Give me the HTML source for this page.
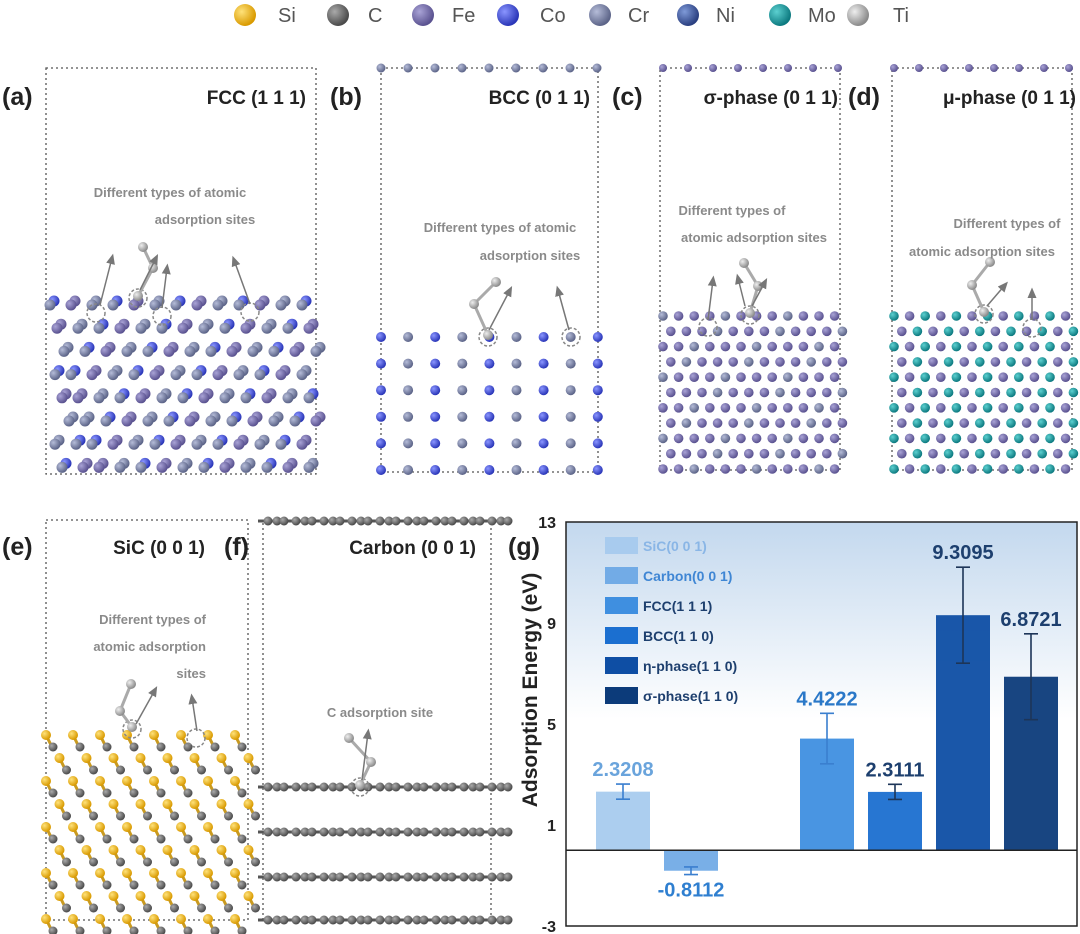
<!DOCTYPE html>
<html><head><meta charset="utf-8"><style>
html,body{margin:0;padding:0;background:#fff;}
svg{display:block;font-family:"Liberation Sans",Arial,sans-serif;}
.lbl{font-size:25px;font-weight:bold;fill:#222;}
.ttl{font-size:19px;font-weight:bold;fill:#222;}
.ann{font-size:13px;font-weight:bold;fill:#8a8a8a;}
.box{fill:none;stroke:#555;stroke-width:1.3;stroke-dasharray:2,3;}
</style></head><body>
<svg id="fig" width="1080" height="934" viewBox="0 0 1080 934">
<defs>
<radialGradient id="g-si" cx="35%" cy="35%" r="65%"><stop offset="0" stop-color="#ffe27a"/><stop offset="1" stop-color="#d99a00"/></radialGradient>
<radialGradient id="g-c" cx="35%" cy="35%" r="65%"><stop offset="0" stop-color="#aaa"/><stop offset="1" stop-color="#4a4a4a"/></radialGradient>
<radialGradient id="g-fe" cx="35%" cy="35%" r="65%"><stop offset="0" stop-color="#a9a3d6"/><stop offset="1" stop-color="#5a5290"/></radialGradient>
<radialGradient id="g-co" cx="35%" cy="35%" r="65%"><stop offset="0" stop-color="#8a95ff"/><stop offset="1" stop-color="#2a36b8"/></radialGradient>
<radialGradient id="g-cr" cx="35%" cy="35%" r="65%"><stop offset="0" stop-color="#b5bcd8"/><stop offset="1" stop-color="#5c6488"/></radialGradient>
<radialGradient id="g-ni" cx="35%" cy="35%" r="65%"><stop offset="0" stop-color="#7f9ad8"/><stop offset="1" stop-color="#2a3f80"/></radialGradient>
<radialGradient id="g-mo" cx="35%" cy="35%" r="65%"><stop offset="0" stop-color="#5cd0d0"/><stop offset="1" stop-color="#0d7a80"/></radialGradient>
<radialGradient id="g-ti" cx="35%" cy="35%" r="65%"><stop offset="0" stop-color="#eee"/><stop offset="1" stop-color="#8a8a8a"/></radialGradient>
<linearGradient id="plotbg" x1="0" y1="0" x2="0" y2="1"><stop offset="0" stop-color="#c3d8ee"/><stop offset="0.6" stop-color="#ffffff"/><stop offset="1" stop-color="#ffffff"/></linearGradient>
<marker id="arr" markerWidth="8" markerHeight="8" refX="4" refY="4" orient="auto"><path d="M0,1 L7,4 L0,7 z" fill="#777"/></marker>
</defs>
<g id="legend-top"></g>
<g id="structs"></g>
<g id="annots">
<text class="lbl" x="2" y="105">(a)</text>
<text class="ttl" x="306" y="104" text-anchor="end">FCC (1 1 1)</text>
<text class="lbl" x="330" y="105">(b)</text>
<text class="ttl" x="590" y="104" text-anchor="end">BCC (0 1 1)</text>
<text class="lbl" x="612" y="105">(c)</text>
<text class="ttl" x="838" y="104" text-anchor="end">σ-phase (0 1 1)</text>
<text class="lbl" x="848" y="105">(d)</text>
<text class="ttl" x="1076" y="104" text-anchor="end">μ-phase (0 1 1)</text>
<text class="lbl" x="2" y="555">(e)</text>
<text class="ttl" x="205" y="554" text-anchor="end">SiC (0 0 1)</text>
<text class="lbl" x="224" y="555">(f)</text>
<text class="ttl" x="476" y="554" text-anchor="end">Carbon (0 0 1)</text>
<text class="lbl" x="508" y="555">(g)</text>
<text class="ann" x="170" y="197" text-anchor="middle">Different types of atomic</text>
<text class="ann" x="205" y="224" text-anchor="middle">adsorption sites</text>
<text class="ann" x="500" y="232" text-anchor="middle">Different types of atomic</text>
<text class="ann" x="530" y="260" text-anchor="middle">adsorption sites</text>
<text class="ann" x="732" y="215" text-anchor="middle">Different types of</text>
<text class="ann" x="754" y="242" text-anchor="middle">atomic adsorption sites</text>
<text class="ann" x="1007" y="228" text-anchor="middle">Different types of</text>
<text class="ann" x="982" y="256" text-anchor="middle">atomic adsorption sites</text>
<text class="ann" x="206" y="624" text-anchor="end">Different types of</text>
<text class="ann" x="206" y="651" text-anchor="end">atomic adsorption</text>
<text class="ann" x="206" y="678" text-anchor="end">sites</text>
<text class="ann" x="380" y="717" text-anchor="middle">C adsorption site</text>
</g>
<g id="chart"></g>
</svg>
<script>
const NS='http://www.w3.org/2000/svg';
const categories=['SiC(0 0 1)','Carbon(0 0 1)','FCC(1 1 1)','BCC(1 1 0)','η-phase(1 1 0)','σ-phase(1 1 0)'];
const legendLabels=['SiC(0 0 1)','Carbon(0 0 1)','FCC(1 1 1)','BCC(1 1 0)','η-phase(1 1 0)','σ-phase(1 1 0)'];
const energies=[2.3208,-0.8112,4.4222,2.3111,9.3095,6.8721];
const errors=[0.3,0.15,1.0,0.3,1.9,1.7];
const valueLabels=['2.3208','-0.8112','4.4222','2.3111','9.3095','6.8721'];
const yTicks=[13,9,5,1,-3];
const barSlots=[0,1,3,4,5,6];
const barColors=['#a8cbee','#72abe6','#3f8fe0','#1b6fd0','#0e4ea4','#0c3b7a'];
const labelColors=['#6aa4dc','#2f7fd0','#2a78c8','#1d3f6e','#1d3f6e','#1d3f6e'];

function el(tag,attrs,parent){const e=document.createElementNS(NS,tag);for(const k in attrs)e.setAttribute(k,attrs[k]);parent.appendChild(e);return e;}

// element legend
const elems=[['Si','si',245,278],['C','c',338,368],['Fe','fe',423,452],['Co','co',508,540],['Cr','cr',600,628],['Ni','ni',688,716],['Mo','mo',780,808],['Ti','ti',858,893]];
const lg=document.getElementById('legend-top');
elems.forEach(d=>{
  const c=el('circle',{cx:d[2],cy:15,r:11,fill:'url(#g-'+d[1]+')'},lg);
  
  
  const t=el('text',{x:d[3],y:22,'font-size':20,fill:'#555'},lg);
  t.textContent=d[0];
  
  
});

const S=document.getElementById('structs');
function atom(x,y,r,kind){
  const c=el('circle',{cx:x,cy:y,r:r,fill:'url(#g-'+kind+')'},S);
  
  
}
function box(x,y,w,h,name){
  const b=el('rect',{x:x,y:y,width:w,height:h,class:'box'},S);
  
  
}
box(46,68,270,406,'panel-a-cell');box(381,68,217,404,'panel-b-cell');
box(660,68,180,402,'panel-c-cell');box(892,68,180,402,'panel-d-cell');
box(46,520,202,400,'panel-e-cell');box(263,521,228,399,'panel-f-cell');

// (a) FCC
const ak=['co','fe','cr'];
for(let r=0;r<8;r++){const y=305+r*23.2;for(let c=0;c<13;c++){let x=50+((c*21+r*7)%268);const k=ak[(c+r)%3];atom(x+4,y-4,5.5,k);atom(x,y,5.5,k==='co'?'cr':k);}}
// (b) BCC
for(let c=0;c<9;c++)atom(381+c*27,68,4.5,'cr');
for(let r=0;r<6;r++){const y=337+r*26.6;for(let c=0;c<9;c++)atom(381+c*27.1,y,5,c%2?'cr':'co');}
// (c) sigma
for(let r=0;r<11;r++){const y=316+r*15.3;for(let c=0;c<12;c++){const x=663+c*15.6+(r%2)*7.8;if(x<843)atom(x,y,4.8,(c+r)%4===0?'cr':'fe');}}
for(let c=0;c<8;c++)atom(663+c*25,68,4,'fe');
// (d) mu
for(let r=0;r<11;r++){const y=316+r*15.3;for(let c=0;c<12;c++){const x=894+c*15.6+(r%2)*7.8;if(x<1075)atom(x,y,4.8,(c+r)%2===0?'mo':'fe');}}
for(let c=0;c<8;c++)atom(894+c*25,68,4,'fe');
// (e) SiC
for(let r=0;r<9;r++){const y=735+r*23;const off=(r%2)*13.5;for(let c=0;c<8;c++){const x=46+c*27+off;
  const b=el('line',{x1:x,y1:y,x2:x+6,y2:y+12,stroke:'#c99a20','stroke-width':3},S);
  
  atom(x,y,5,'si');atom(x+7,y+12,4.5,'c');}}
// (f) carbon layers
[521,787,832,877,920].forEach(y=>{
  const ln=el('line',{x1:258,y1:y,x2:497,y2:y,stroke:'#555','stroke-width':3},S);
  
  for(let c=0;c<9;c++){const x=268+c*28;atom(x,y,4.5,'c');atom(x+9,y,4.5,'c');atom(x+16,y,4.5,'c');}
});
// adsorbates + arrows
function arrow(x1,y1,x2,y2){const a=el('line',{x1:x1,y1:y1,x2:x2,y2:y2,stroke:'#777','stroke-width':1.5,'marker-end':'url(#arr)'},S);
  }
function site(x,y){const s=el('circle',{cx:x,cy:y,r:9,fill:'none',stroke:'#888','stroke-width':1.5,'stroke-dasharray':'3,2'},S);
  }
function mol(pts){for(let i=0;i<pts.length-1;i++){const l=el('line',{x1:pts[i][0],y1:pts[i][1],x2:pts[i+1][0],y2:pts[i+1][1],stroke:'#aaa','stroke-width':3},S);
  }
  pts.forEach(p=>atom(p[0],p[1],5,'ti'));}
site(96,313);site(138,298);site(162,316);site(250,312);
mol([[143,247],[153,268],[138,296]]);
arrow(100,305,112,258);arrow(140,290,156,258);arrow(162,308,167,268);arrow(250,304,234,260);
site(488,337);site(571,337);mol([[496,282],[474,304],[488,335]]);arrow(489,330,510,290);arrow(569,330,558,290);
site(708,327);site(750,315);mol([[744,263],[758,286],[750,313]]);arrow(708,320,713,280);arrow(745,306,738,278);arrow(752,306,765,282);
site(984,314);site(1032,328);mol([[990,262],[972,285],[984,312]]);arrow(987,306,1005,285);arrow(1032,320,1032,292);
site(132,729);site(196,738);mol([[131,684],[120,711],[132,727]]);arrow(136,724,155,690);arrow(197,731,192,698);
site(360,787);mol([[349,738],[371,762],[360,785]]);arrow(362,780,368,733);

// chart
const G=document.getElementById('chart');
const X0=566,X1=1077,YT=522,YB=926;
const yMin=-3,yMax=13;
const yS=v=>YB-(v-yMin)/(yMax-yMin)*(YB-YT);
const slotW=68, xS=i=>596+i*slotW;
const bg=el('rect',{x:X0,y:YT,width:X1-X0,height:yS(0)-YT,fill:'url(#plotbg)'},G);

categories.forEach((cat,i)=>{
  const v=energies[i],x=xS(barSlots[i]),w=54;
  const y0=yS(0),yv=yS(v);
  const b=el('rect',{x:x,y:Math.min(y0,yv),width:w,height:Math.abs(y0-yv),fill:barColors[i],opacity:0.95},G);
  
  
  const cx=x+w/2,et=yS(v+errors[i]),eb=yS(v-errors[i]);
  const ec=i<3?'#3a7fcf':'#1d3558';
  const e1=el('path',{d:`M${cx},${et}V${eb}M${cx-7},${et}H${cx+7}M${cx-7},${eb}H${cx+7}`,stroke:ec,'stroke-width':1.6,fill:'none'},G);
  
  
  const ly=v>=0?et-8:eb+22;
  const t=el('text',{x:cx,y:ly,'text-anchor':'middle','font-size':20,'font-weight':'bold',fill:labelColors[i]},G);
  t.textContent=valueLabels[i];
  
  
});
const fr=el('rect',{x:X0,y:YT,width:X1-X0,height:YB-YT,fill:'none',stroke:'#222','stroke-width':1.5},G);

const zl=el('line',{x1:X0,y1:yS(0),x2:X1,y2:yS(0),stroke:'#222','stroke-width':1.5},G);

yTicks.forEach(v=>{
  const t=el('text',{x:556,y:yS(v)+6,'text-anchor':'end','font-size':16,'font-weight':'bold',fill:'#222'},G);
  t.textContent=v;
  
  
});
const yt=el('text',{x:0,y:0,transform:'translate(537,690) rotate(-90)','text-anchor':'middle','font-size':21,'font-weight':'bold',fill:'#222'},G);
yt.textContent='Adsorption Energy (eV)';


legendLabels.forEach((s,i)=>{
  const y=537+i*30;
  const r=el('rect',{x:605,y:y,width:33,height:17,fill:barColors[i]},G);
  
  
  const t=el('text',{x:643,y:y+14,'font-size':14,'font-weight':'bold',fill:i===0?'#8ab6e6':(i===1?'#3f86d4':'#1d3f6e')},G);
  t.textContent=s;
  
  
});
</script>
</body></html>
